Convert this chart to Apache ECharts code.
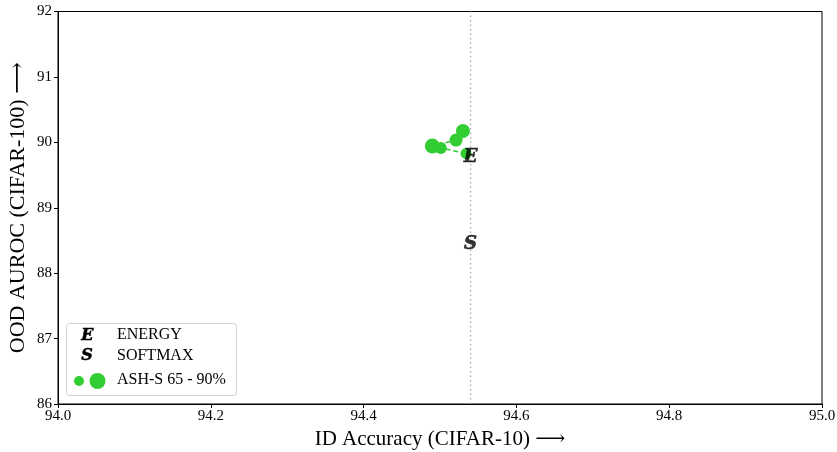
<!DOCTYPE html>
<html><head><meta charset="utf-8">
<script src="https://cdn.jsdelivr.net/npm/echarts@6/dist/echarts.min.js"></script>
<style>html,body{margin:0;padding:0;background:#fff}#c{width:837px;height:452px}</style>
</head><body><div id="c"></div>
<script>
// ---- data ----
const xTicks = [94.0, 94.2, 94.4, 94.6, 94.8, 95.0];
const yTicks = [86, 87, 88, 89, 90, 91, 92];
const energyPoint = [94.54, 89.77];
const softmaxPoint = [94.54, 88.44];
const baselineAcc = 94.54;
const ashAcc = [94.534, 94.501, 94.490, 94.521, 94.530];
const ashAuroc = [89.830, 89.913, 89.943, 90.035, 90.173];
const legendLabels = ['ENERGY', 'SOFTMAX', 'ASH-S 65 - 90%'];

// ---- styling ----
const ashSizes = [11, 12, 15, 13, 14];
const GREEN = '#32cd32';
const serif = '"Liberation Serif","DejaVu Serif",serif';
const chart = echarts.init(document.getElementById('c'), null, {renderer: 'canvas'});
const ashData = ashAcc.map((x, i) => [x, ashAuroc[i]]);
const markerLabel = (t) => ({
  show: true, position: 'inside', formatter: t,
  fontFamily: '"DejaVu Serif",serif', fontStyle: 'italic', fontWeight: 'bold',
  fontSize: 18, color: '#000', textBorderColor: '#000', textBorderWidth: 0.6
});
chart.setOption({
  animation: false,
  grid: {left: 58, right: 15, top: 11.5, bottom: 48, show: true, borderColor: '#000', borderWidth: 1,
    containLabel: false, outerBoundsMode: 'none'},
  xAxis: {
    type: 'value', min: 94.0, max: 95.0, interval: 0.2,
    axisLine: {show: true, lineStyle: {color: '#000', width: 1}},
    axisTick: {show: true, inside: false, length: 4, lineStyle: {color: '#000'}},
    axisLabel: {color: '#000', fontFamily: serif, fontSize: 15, margin: 5,
      formatter: v => v.toFixed(1)},
    splitLine: {show: false},
    name: 'ID Accuracy (CIFAR-10) \u27F6', nameLocation: 'middle', nameGap: 23,
    nameTextStyle: {color: '#000', fontFamily: serif, fontSize: 21}
  },
  yAxis: {
    type: 'value', min: 86, max: 92, interval: 1,
    axisLine: {show: true, lineStyle: {color: '#000', width: 1}},
    axisTick: {show: true, inside: false, length: 4, lineStyle: {color: '#000'}},
    axisLabel: {color: '#000', fontFamily: serif, fontSize: 15, margin: 6},
    splitLine: {show: false},
    name: 'OOD AUROC (CIFAR-100) \u27F6', nameLocation: 'middle', nameGap: 29,
    nameMoveOverlap: false,
    nameTextStyle: {color: '#000', fontFamily: serif, fontSize: 22}
  },
  series: [
    {
      type: 'line', data: [[baselineAcc, 86], [baselineAcc, 92]], symbol: 'none',
      lineStyle: {color: '#a8a8a8', width: 1.3, type: [1.5, 3]}, z: 1, silent: true
    },
    {
      type: 'line', data: ashData, symbol: 'none',
      lineStyle: {color: GREEN, width: 1.5, type: [5, 3]}, z: 2
    },
    {
      type: 'scatter', data: ashData,
      symbolSize: (v, p) => ashSizes[p.dataIndex],
      itemStyle: {color: GREEN, opacity: 1}, z: 3
    },
    {
      type: 'scatter', data: [energyPoint], symbolSize: 1,
      itemStyle: {color: 'rgba(0,0,0,0)'}, label: markerLabel(legendLabels[0][0]), z: 5
    },
    {
      type: 'scatter', data: [softmaxPoint], symbolSize: 1,
      itemStyle: {color: 'rgba(0,0,0,0)'}, label: markerLabel(legendLabels[1][0]), z: 5
    }
  ],
  graphic: [
    {type: 'rect', left: 66, top: 323, shape: {width: 170, height: 72, r: 3},
      style: {fill: 'rgba(255,255,255,0.85)', stroke: '#d0d0d0', lineWidth: 1}, z: 10},
    {type: 'text', left: 81, top: 328, style: {text: legendLabels[0][0], font: 'italic bold 16px "DejaVu Serif",serif', fill: '#000', stroke: '#000', lineWidth: 0.5}, z: 11},
    {type: 'text', left: 117, top: 327, style: {text: legendLabels[0], font: '16px ' + serif, fill: '#000'}, z: 11},
    {type: 'text', left: 81, top: 348, style: {text: legendLabels[1][0], font: 'italic bold 16px "DejaVu Serif",serif', fill: '#000', stroke: '#000', lineWidth: 0.5}, z: 11},
    {type: 'text', left: 117, top: 348, style: {text: legendLabels[1], font: '16px ' + serif, fill: '#000'}, z: 11},
    {type: 'circle', shape: {cx: 79, cy: 381, r: 5}, style: {fill: GREEN}, z: 11},
    {type: 'circle', shape: {cx: 97.5, cy: 381, r: 8}, style: {fill: GREEN}, z: 11},
    {type: 'text', left: 117, top: 372, style: {text: legendLabels[2], font: '16px ' + serif, fill: '#000'}, z: 11}
  ]
});
</script></body></html>
